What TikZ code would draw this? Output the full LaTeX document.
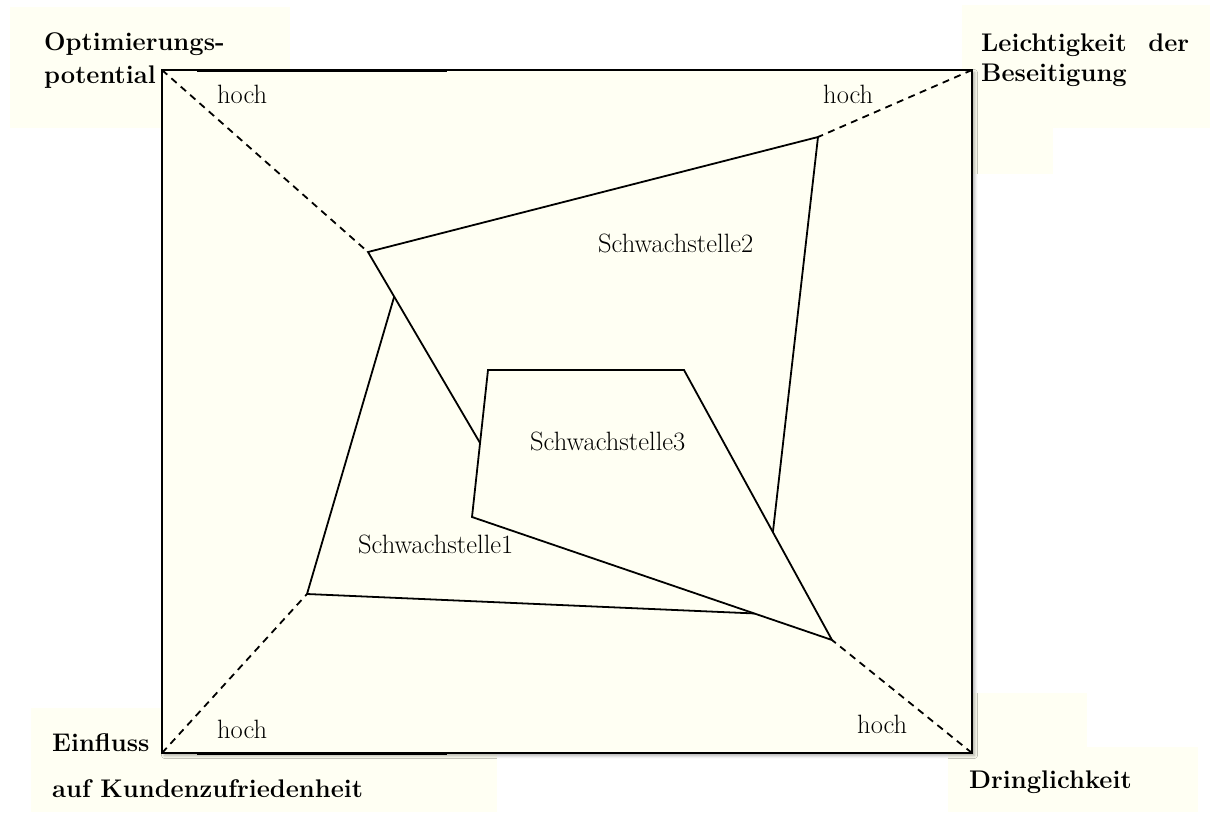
\documentclass[tikz,border=0pt]{standalone}
\usetikzlibrary{shadows.blur}
\definecolor{cream}{RGB}{255,255,243}
\begin{document}
\begin{tikzpicture}[x=1pt,y=-1pt,
  panel/.style={fill=cream, draw=none},
  frame/.style={draw=black, line width=1.8pt, fill=cream,
    blur shadow={shadow xshift=2.5pt, shadow yshift=-2.5pt, shadow blur radius=3pt, shadow opacity=35}},
  rule/.style={draw=black, line width=3pt},
  axis/.style={draw=black, line width=1.8pt, dash pattern=on 7pt off 5.5pt},
  profile/.style={draw=black, line width=1.8pt, fill=cream, line join=miter},
  axislabel/.style={font=\fontsize{25.5}{30}\selectfont\bfseries, inner sep=0pt, anchor=base west},
  tag/.style={font=\fontsize{26.5}{31}\selectfont, inner sep=0pt, anchor=base west},
]
\useasboundingbox (0,0) rectangle (1210,812);

% label backgrounds
\fill[panel] (10,7) rectangle (290,128);
\fill[panel] (962,5) rectangle (1210,128);
\fill[panel] (962,128) rectangle (1053,174);
\fill[panel] (31,708) rectangle (497,812);
\fill[panel] (972,693) rectangle (1087,753);
\fill[panel] (948,747) rectangle (1198,812);

% chart frame
\coordinate (tl) at (162,70);
\coordinate (tr) at (972,70);
\coordinate (bl) at (162,753);
\coordinate (br) at (972,753);
\path[frame] (tl) rectangle (br);
\coordinate (ta) at (197,70);
\coordinate (tb) at (447,70);
\coordinate (ba) at (197,753);
\coordinate (bb) at (447,753);
\draw[rule] (ta) -- (tb);
\draw[rule] (ba) -- (bb);

% profile vertices
\coordinate (s1a) at (307,594);
\coordinate (s1b) at (402,270);
\coordinate (s1c) at (600,350);
\coordinate (s1d) at (790,615);
\coordinate (s2a) at (368,252);
\coordinate (s2b) at (818,137);
\coordinate (s2c) at (768,575);
\coordinate (s2d) at (500,477);
\coordinate (s3a) at (488,370);
\coordinate (s3b) at (684,370);
\coordinate (s3c) at (832,640);
\coordinate (s3d) at (472,517);

% axes from the corners to the outermost points
\draw[axis] (tl) -- (s2a);
\draw[axis] (tr) -- (s2b);
\draw[axis] (bl) -- (s1a);
\draw[axis] (br) -- (s3c);

% profiles, each one covering the ones before
\path[profile] (s1a) -- (s1b) -- (s1c) -- (s1d) -- cycle;
\path[profile] (s2a) -- (s2b) -- (s2c) -- (s2d) -- cycle;
\path[profile] (s3a) -- (s3b) -- (s3c) -- (s3d) -- cycle;

% axis titles
\node[axislabel] (opt1) at (44,50) {Optimierungs-};
\node[axislabel] (opt2) at (44,83) {potential};
\node[axislabel] (lei1) at (981,51) {\makebox[208pt][s]{Leichtigkeit der}};
\node[axislabel] (lei2) at (981,81) {Beseitigung};
\node[axislabel] (ein1) at (52,751) {Einfluss};
\node[axislabel] (ein2) at (52,797) {auf Kundenzufriedenheit};
\node[axislabel] (dri) at (969,788) {Dringlichkeit};

% scale ends
\node[tag] (h1) at (217,103) {hoch};
\node[tag] (h2) at (823,103) {hoch};
\node[tag] (h3) at (217,738) {hoch};
\node[tag] (h4) at (857,733) {hoch};

% profile names
\node[tag] (n1) at (358,553) {Schwachstelle1};
\node[tag] (n2) at (598,252) {Schwachstelle2};
\node[tag] (n3) at (530,450) {Schwachstelle3};
\end{tikzpicture}
\end{document}
